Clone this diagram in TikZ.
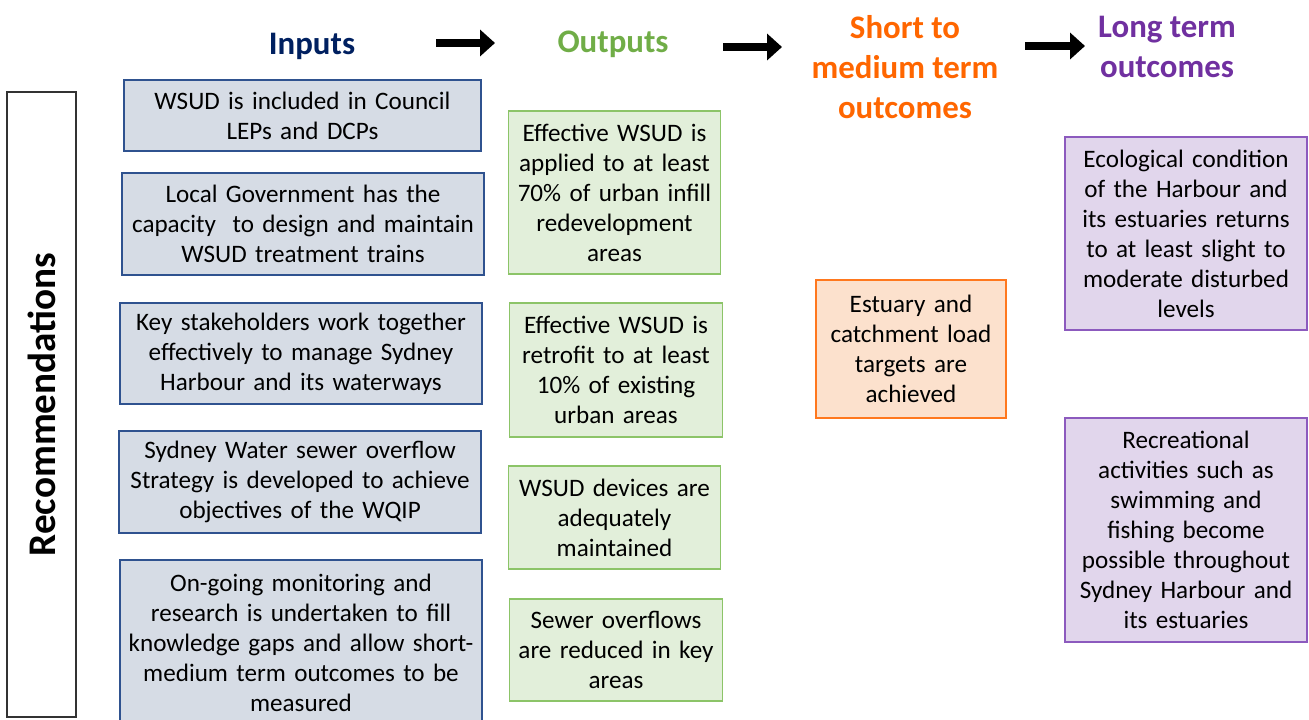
\documentclass[tikz,border=0pt]{standalone}
\usepackage{fontspec}
\setmainfont{Carlito}
\usepackage{xcolor}
\usetikzlibrary{positioning, arrows.meta}

\definecolor{inNavy}{RGB}{0,32,96}
\definecolor{inFill}{RGB}{214,220,229}
\definecolor{inLine}{RGB}{47,82,143}
\definecolor{outGreen}{RGB}{112,173,71}
\definecolor{outFill}{RGB}{226,239,218}
\definecolor{outLine}{RGB}{140,196,104}
\definecolor{midOrange}{RGB}{255,102,0}
\definecolor{midFill}{RGB}{252,225,205}
\definecolor{midLine}{RGB}{255,120,30}
\definecolor{longPurple}{RGB}{112,48,160}
\definecolor{longFill}{RGB}{225,214,236}
\definecolor{longLine}{RGB}{140,90,190}

\begin{document}
\begin{tikzpicture}[
    x=0.02cm, y=-0.02cm,
    every node/.style={font=\fontsize{14.3}{17.1}\selectfont, inner sep=0pt, align=center},
    inbox/.style={draw=inLine, fill=inFill, line width=0.8pt, minimum width=7.24cm, text width=6.9cm},
    outbox/.style={draw=outLine, fill=outFill, line width=0.8pt, minimum width=4.25cm, text width=4.0cm},
    midbox/.style={draw=midLine, fill=midFill, line width=0.8pt, minimum width=3.8cm, text width=3.5cm},
    longbox/.style={draw=longLine, fill=longFill, line width=0.8pt, minimum width=4.84cm, text width=4.6cm},
    heading/.style={font=\fontsize{18.7}{22.8}\selectfont\bfseries},
    flowarrow/.style={line width=4pt, -{Triangle[length=0.3cm, width=0.52cm]}}
]
    \clip (0,0) rectangle (1309,720);

    % ===============================
    % 1. HEADINGS
    % ===============================
    \node[heading, text=inNavy] (hin) at (312, 46) {Inputs};
    \node[heading, text=outGreen] (hout) at (613, 44) {Outputs};
    \node[heading, text=midOrange] (hmid) at (905, 67) {Short to\\medium term\\outcomes};
    \node[heading, text=longPurple] (hlong) at (1167, 47) {Long term\\outcomes};

    \coordinate (a1s) at (436, 43);  \coordinate (a1e) at (495, 43);
    \coordinate (a2s) at (723, 47);  \coordinate (a2e) at (782, 47);
    \coordinate (a3s) at (1025, 46); \coordinate (a3e) at (1085, 46);
    \draw[flowarrow] (a1s) -- (a1e);
    \draw[flowarrow] (a2s) -- (a2e);
    \draw[flowarrow] (a3s) -- (a3e);

    % ===============================
    % 2. RECOMMENDATIONS
    % ===============================
    \node[draw=black!80, line width=0.8pt, minimum width=1.38cm, minimum height=12.5cm] (rec) at (41.5, 404.5) {};
    \node[rotate=90, font=\fontsize{22.3}{26}\selectfont\bfseries] (reclabel) at (rec.center) {Recommendations};

    % ===============================
    % 3. INPUTS
    % ===============================
    \node[inbox, minimum width=7.14cm, minimum height=1.42cm] (in1) at (302.5, 115.5) {WSUD is included in Council\\LEPs and DCPs};
    \node[inbox, minimum height=2.04cm] (in2) at (303, 224) {Local Government has the\\capacity\ \ to design and maintain\\WSUD treatment trains};
    \node[inbox, minimum height=2.02cm] (in3) at (301, 353.5) {Key stakeholders work together\\effectively to manage Sydney\\Harbour and its waterways};
    \node[inbox, minimum height=2.04cm] (in4) at (300, 482) {Sydney Water sewer overflow\\Strategy is developed to achieve\\objectives of the WQIP};
    \node[inbox, minimum height=3.3cm] (in5) at (301, 642.5) {On-going monitoring and\\research is undertaken to fill\\knowledge gaps and allow short-\\medium term outcomes to be\\measured};

    % ===============================
    % 4. OUTPUTS
    % ===============================
    \node[outbox, minimum height=3.26cm] (out1) at (614.5, 192.5) {Effective WSUD is\\applied to at least\\70\% of urban infill\\redevelopment\\areas};
    \node[outbox, minimum height=2.68cm] (out2) at (616, 370) {Effective WSUD is\\retrofit to at least\\10\% of existing\\urban areas};
    \node[outbox, minimum height=2.06cm] (out3) at (614.5, 517.5) {WSUD devices are\\adequately\\maintained};
    \node[outbox, minimum height=2.04cm] (out4) at (616, 650) {Sewer overflows\\are reduced in key\\areas};

    % ===============================
    % 5. OUTCOMES
    % ===============================
    \node[midbox, minimum height=2.76cm] (mid) at (911, 349) {Estuary and\\catchment load\\targets are\\achieved};

    \node[longbox, minimum height=3.86cm] (long1) at (1186, 233.5) {Ecological condition\\of the Harbour and\\its estuaries returns\\to at least slight to\\moderate disturbed\\levels};
    \node[longbox, minimum height=4.48cm] (long2) at (1186, 530) {Recreational\\activities such as\\swimming and\\fishing become\\possible throughout\\Sydney Harbour and\\its estuaries};

\end{tikzpicture}
\end{document}
